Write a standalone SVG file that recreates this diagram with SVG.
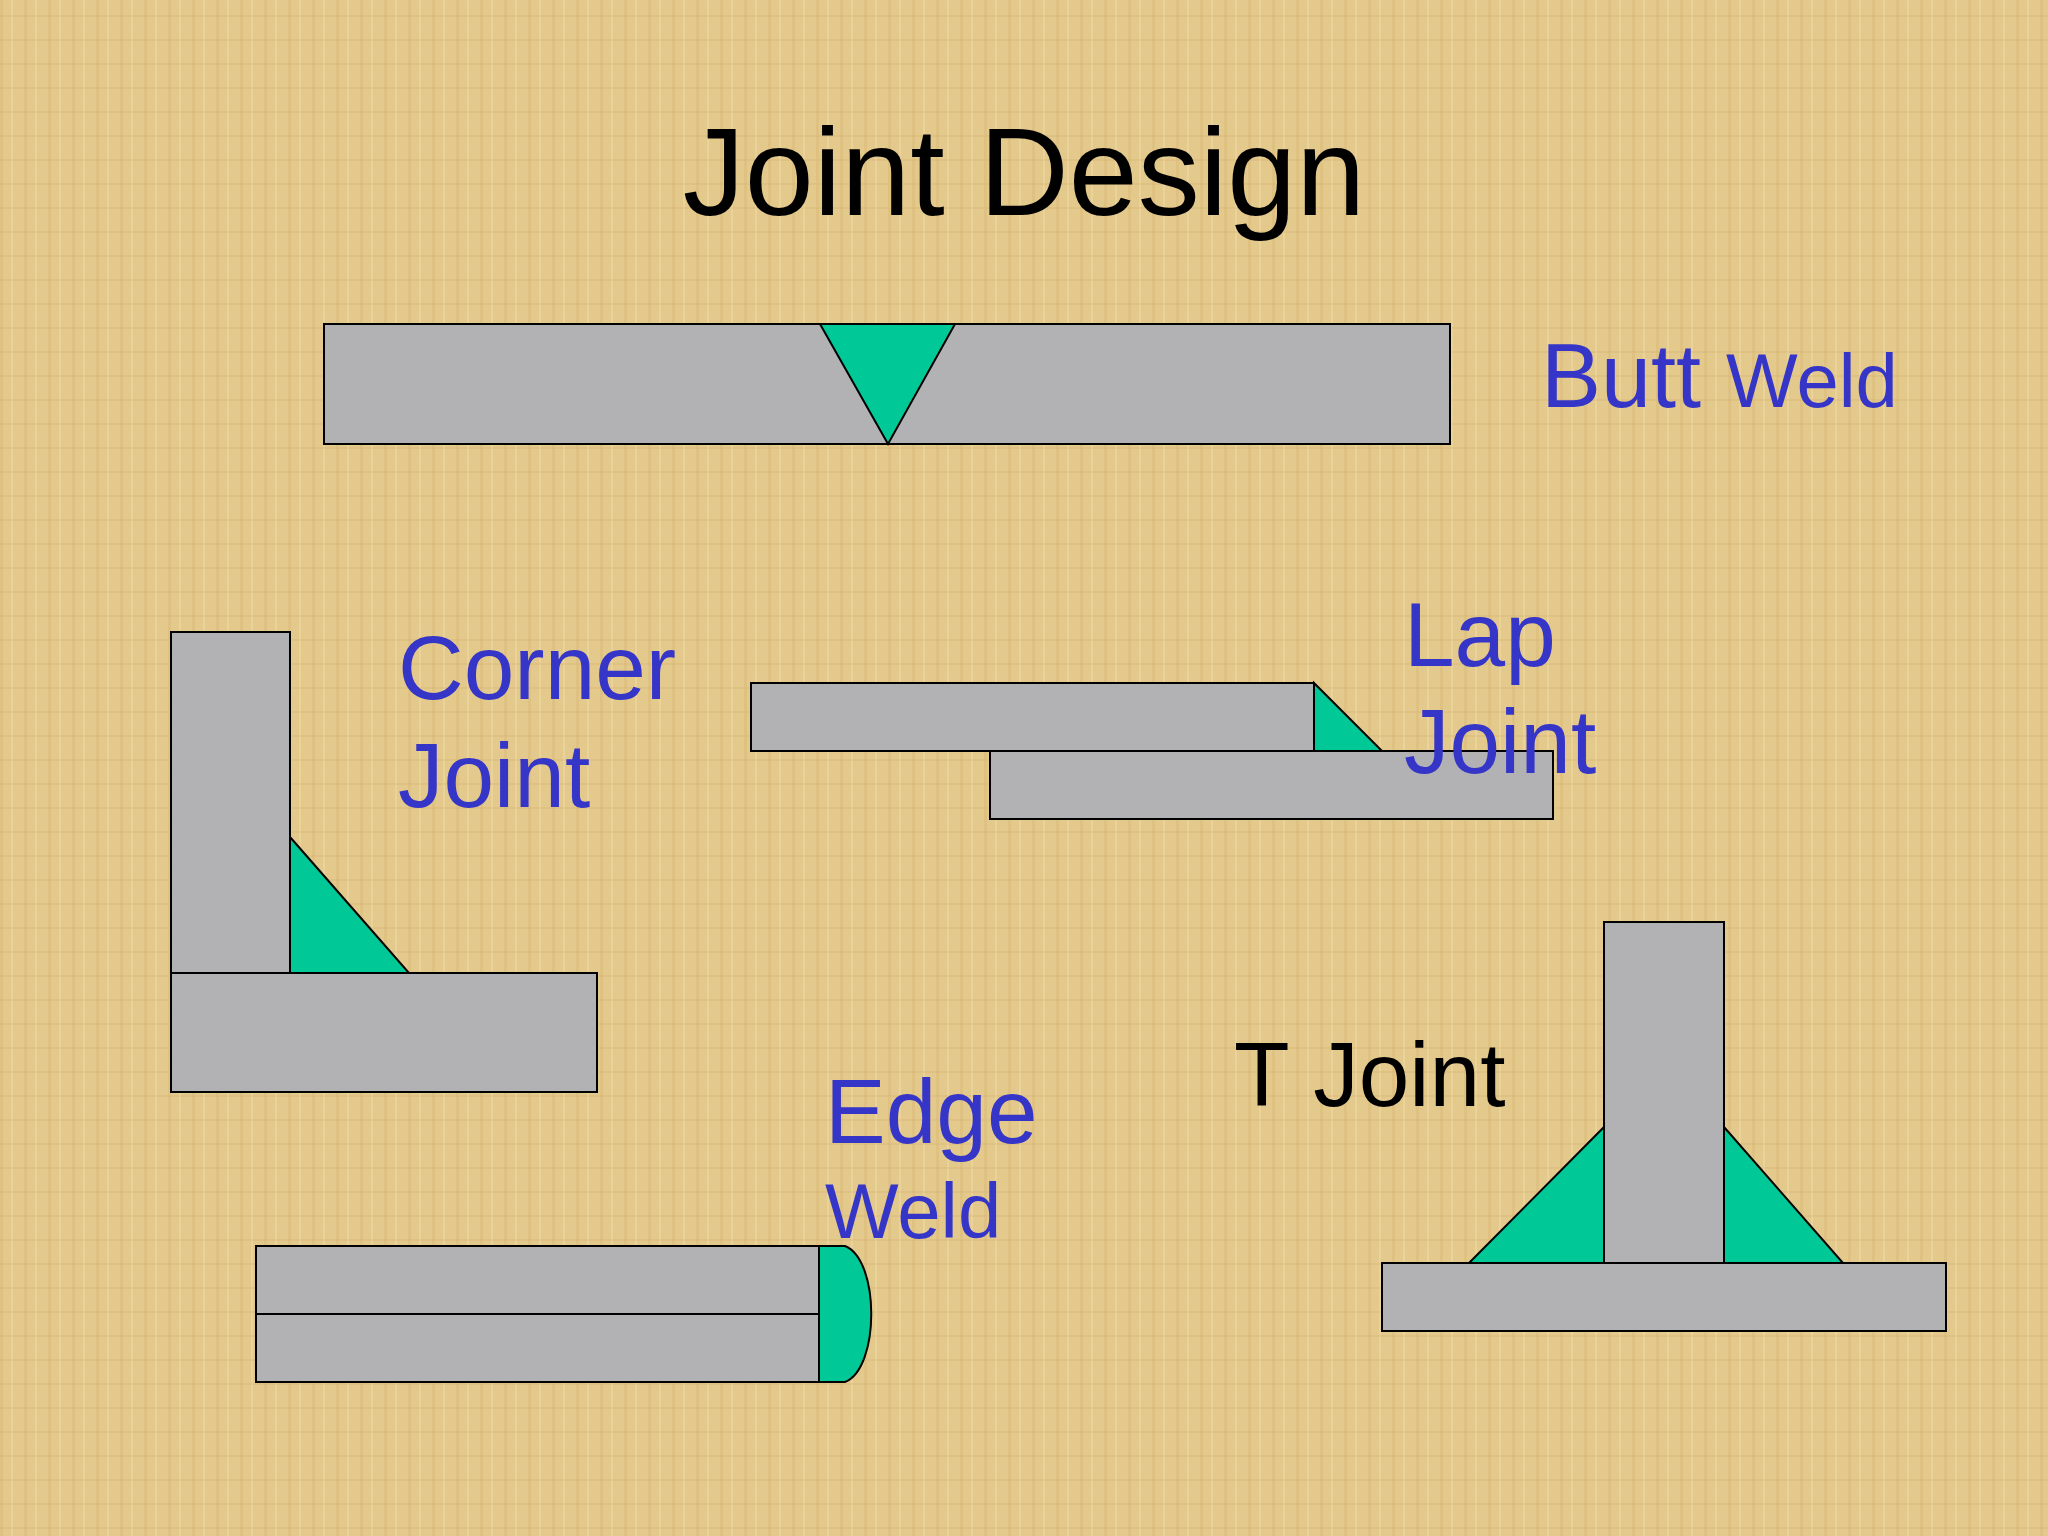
<svg xmlns="http://www.w3.org/2000/svg" width="2048" height="1536" viewBox="0 0 2048 1536">
<style>
.p{fill:#b2b2b4;stroke:#000;stroke-width:2}
.w{fill:#00c896;stroke:#000;stroke-width:2}
.b{font-family:"Liberation Sans",Arial,sans-serif;fill:#3535c8}
.k{font-family:"Liberation Sans",Arial,sans-serif;fill:#000}
</style>
<defs>
<pattern id="tx" width="24" height="24" patternUnits="userSpaceOnUse">
<rect width="24" height="24" fill="#e4c98c"/>
<rect x="0" y="0" width="3" height="24" fill="#d9b978" opacity="0.5"/>
<rect x="11" y="0" width="2" height="24" fill="#f0d9a2" opacity="0.6"/>
<rect x="0" y="15" width="24" height="2" fill="#d6b572" opacity="0.35"/>
</pattern>
</defs>
<rect width="2048" height="1536" fill="url(#tx)"/>
<text class="k" x="1024" y="215" font-size="124" text-anchor="middle">Joint Design</text>
<g id="butt">
<rect class="p" x="324" y="324" width="1126" height="120"/>
<polygon class="w" points="820,324 955,324 888,444"/>
<text class="b" x="1541" y="407" font-size="90">Butt <tspan font-size="76">Weld</tspan></text>
</g>
<g id="corner">
<rect class="p" x="171" y="632" width="119" height="341"/>
<rect class="p" x="171" y="973" width="426" height="119"/>
<polygon class="w" points="290,837 290,973 409,973"/>
<text class="b" x="398" y="699" font-size="91">Corner</text>
<text class="b" x="398" y="807" font-size="91">Joint</text>
</g>
<g id="lap">
<rect class="p" x="751" y="683" width="563" height="68"/>
<rect class="p" x="990" y="751" width="563" height="68"/>
<polygon class="w" points="1314,683 1314,751 1382,751"/>
<text class="b" x="1404" y="666" font-size="91">Lap</text>
<text class="b" x="1404" y="773" font-size="91">Joint</text>
</g>
<g id="edge">
<rect class="p" x="256" y="1246" width="563" height="68"/>
<rect class="p" x="256" y="1314" width="563" height="68"/>
<path class="w" d="M819,1246 L845,1246 C880,1260 880,1368 845,1382 L819,1382 Z"/>
<text class="b" x="825" y="1143" font-size="91">Edge</text>
<text class="b" x="825" y="1238" font-size="78">Weld</text>
</g>
<g id="tjoint">
<rect class="p" x="1382" y="1263" width="564" height="68"/>
<rect class="p" x="1604" y="922" width="120" height="341"/>
<polygon class="w" points="1469,1263 1604,1127 1604,1263"/>
<polygon class="w" points="1724,1127 1724,1263 1843,1263"/>
<text class="k" x="1234" y="1106" font-size="91">T Joint</text>
</g>
<g id="connectors"/>
</svg>
